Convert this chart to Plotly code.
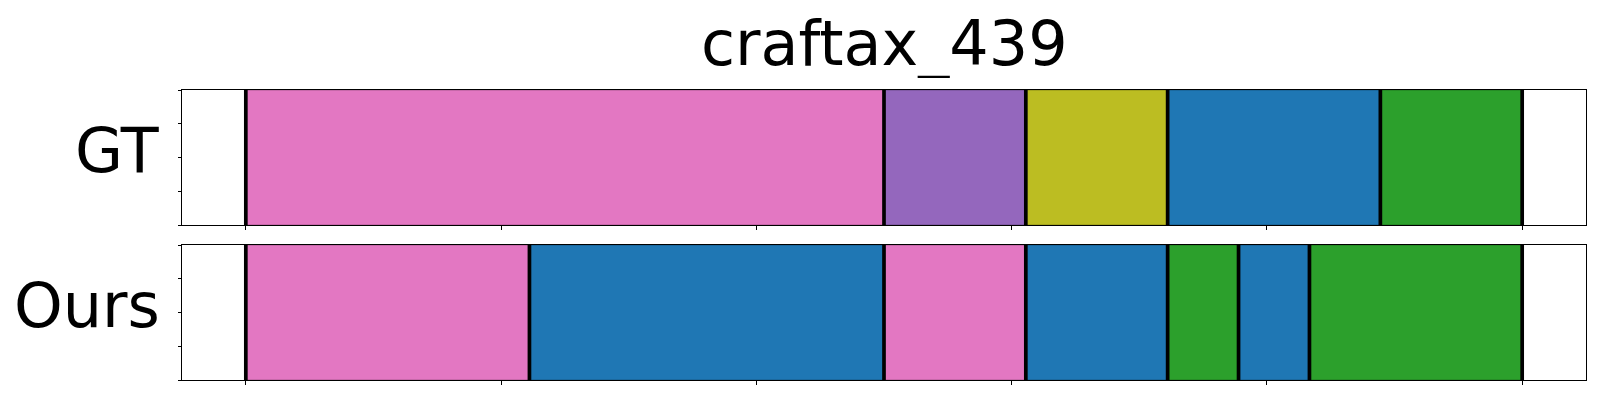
import numpy as np
import plotly.graph_objects as go
from plotly.subplots import make_subplots

# ---- data ----
title_text = "craftax_439"
row_labels = ["GT", "Ours"]
total_steps = 18

gt_starts = [0, 9, 11, 13, 16]
gt_ends = [9, 11, 13, 16, 18]
gt_colors = ["#e377c2", "#9467bd", "#bcbd22", "#1f77b4", "#2ca02c"]

ours_starts = [0, 4, 9, 11, 13, 14, 15]
ours_ends = [4, 9, 11, 13, 14, 15, 18]
ours_colors = ["#e377c2", "#1f77b4", "#e377c2", "#1f77b4", "#2ca02c", "#1f77b4", "#2ca02c"]

panels = [
    (gt_starts, gt_ends, gt_colors),
    (ours_starts, ours_ends, ours_colors),
]

# page body has an 8px default margin; compensate
W, H = 1592, 392
ml, mr, mt, mb = 174, 14, 82, 20
gap = 20
plot_h = H - mt - mb

fig = make_subplots(rows=2, cols=1, shared_xaxes=False,
                    vertical_spacing=gap / plot_h)

for i, (starts, ends, colors) in enumerate(panels, start=1):
    lengths = [e - s for s, e in zip(starts, ends)]
    fig.add_trace(go.Bar(
        y=[0.5] * len(starts), x=lengths, base=starts, orientation="h",
        width=1.0, marker=dict(color=colors, line=dict(color="rgba(0,0,0,0.25)", width=1)),
        showlegend=False, hoverinfo="skip"), row=i, col=1)
    bounds = sorted(set(starts + ends))
    bx, by = [], []
    for b in bounds:
        bx += [b, b, None]
        by += [0, 1, None]
    fig.add_trace(go.Scatter(x=bx, y=by, mode="lines",
                             line=dict(color="black", width=3.7),
                             showlegend=False, hoverinfo="skip"), row=i, col=1)

pad = 0.05 * total_steps
xticks = list(np.linspace(0, total_steps, 6))
axis_common = dict(showline=True, linecolor="black", linewidth=1, mirror=True,
                   showgrid=False, zeroline=False, ticks="outside", ticklen=3.5,
                   tickwidth=1, tickcolor="black", showticklabels=False)
for i in (1, 2):
    fig.update_xaxes(range=[-pad, total_steps + pad], tickvals=xticks, row=i, col=1, **axis_common)
    fig.update_yaxes(range=[0, 1], tickvals=[0, 0.25, 0.5, 0.75, 1.0], row=i, col=1, **axis_common)

annotations = []
for i, lab in enumerate(row_labels, start=1):
    yref = "y domain" if i == 1 else "y2 domain"
    annotations.append(dict(text=lab, xref="paper", x=0, xanchor="right", xshift=-20,
                            yref=yref, y=0.5, yanchor="middle", yshift=7, showarrow=False,
                            font=dict(family="DejaVu Sans", size=62, color="black")))
annotations.append(dict(text=title_text, xref="paper", x=0.5,
                        xanchor="center", yref="paper", y=1, yanchor="bottom", yshift=10,
                        height=70, valign="middle",
                        showarrow=False,
                        font=dict(family="DejaVu Sans", size=62, color="black")))

fig.update_layout(width=W, height=H, margin=dict(l=ml, r=mr, t=mt, b=mb),
                  paper_bgcolor="white", plot_bgcolor="white", barmode="overlay",
                  annotations=annotations, font=dict(family="DejaVu Sans"))

fig.write_html("out.html")
